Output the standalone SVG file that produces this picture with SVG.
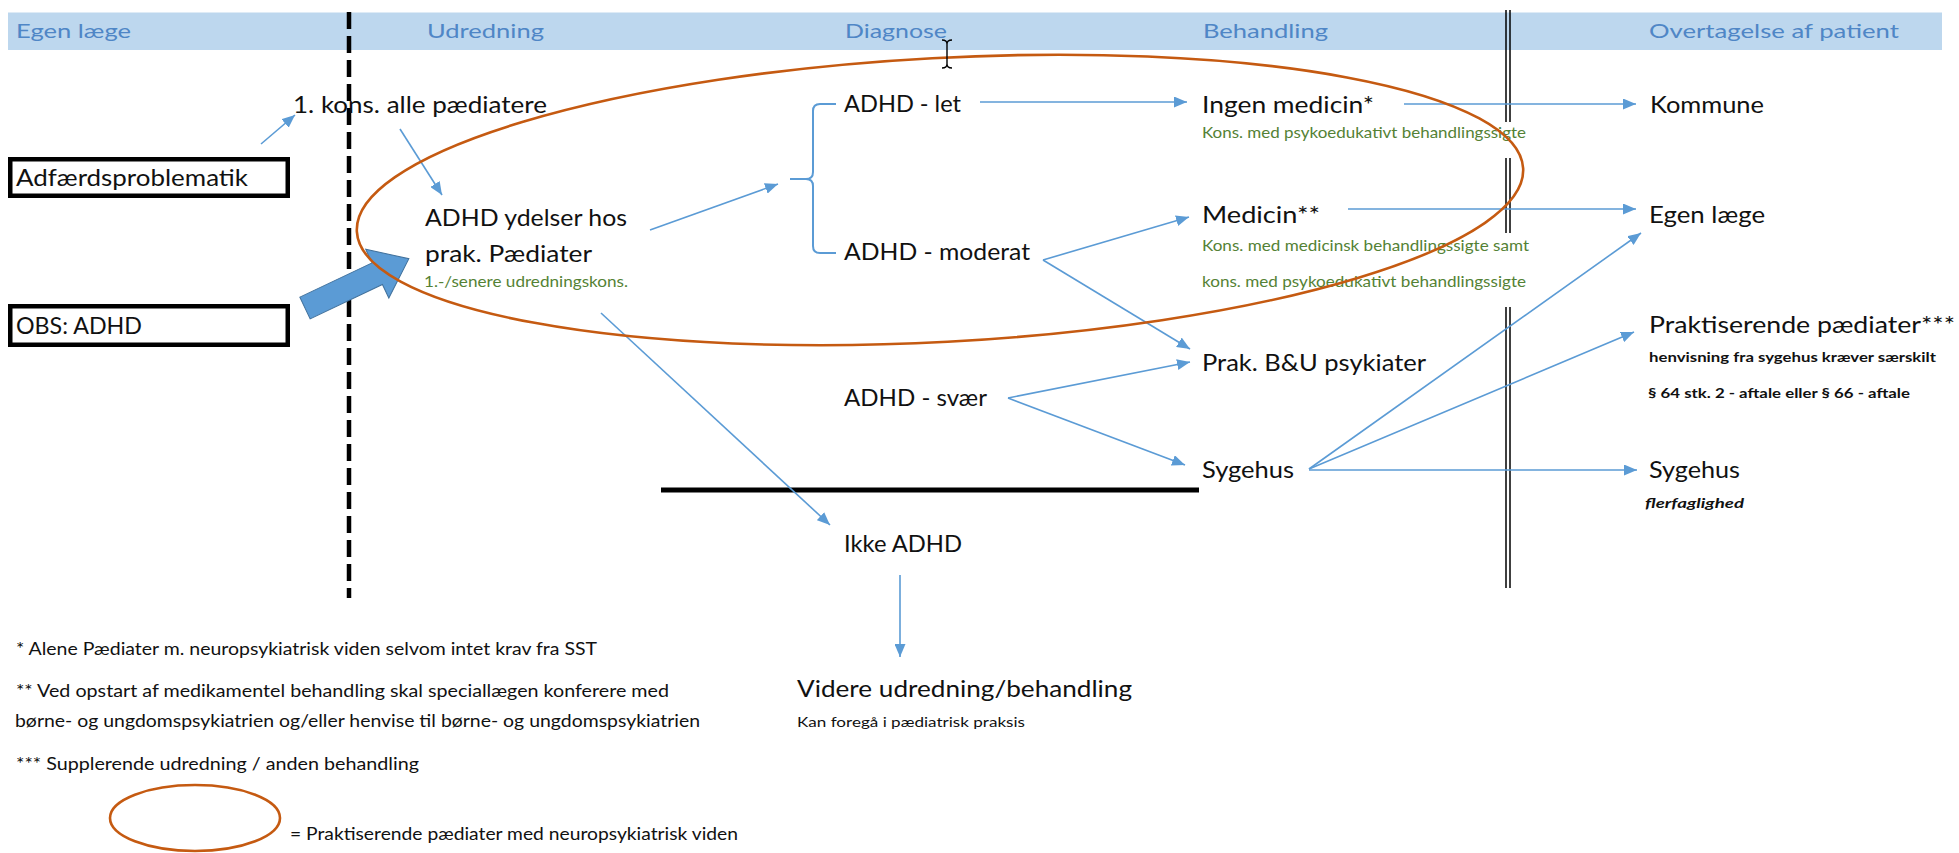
<svg xmlns="http://www.w3.org/2000/svg" width="1959" height="853" viewBox="0 0 1959 853">
<defs>
<style>
text{font-family:Lato,"Liberation Sans",sans-serif;}
.hd{font-size:20px;fill:#4F86C6;}
.n{font-size:23px;fill:#111;}
.g{font-size:15px;fill:#548235;}
.fn{font-size:16.5px;fill:#111;}
.sb{font-size:14px;font-weight:bold;fill:#111;}
.sm{font-size:14px;fill:#111;}
.c{stroke:#5B9BD5;stroke-width:1.6;fill:none;marker-end:url(#ah);}
.box{fill:#fff;stroke:#000;stroke-width:4.5;}
.ov{fill:none;stroke:#C55A11;stroke-width:2.6;}
</style>
<marker id="ah" markerUnits="userSpaceOnUse" markerWidth="13" markerHeight="11" refX="13" refY="5.5" orient="auto">
<path d="M0,0 L13,5.5 L0,11 z" fill="#5B9BD5"/>
</marker>
</defs>
<rect width="1959" height="853" fill="#fff"/>

<g id="header">
<rect x="8" y="12.5" width="1934" height="37.5" fill="#BDD7EE"/>
<text class="hd" x="16" y="38" textLength="115" lengthAdjust="spacingAndGlyphs">Egen læge</text>
<text class="hd" x="427" y="38" textLength="117" lengthAdjust="spacingAndGlyphs">Udredning</text>
<text class="hd" x="845" y="38" textLength="102" lengthAdjust="spacingAndGlyphs">Diagnose</text>
<text class="hd" x="1203" y="38" textLength="125" lengthAdjust="spacingAndGlyphs">Behandling</text>
<text class="hd" x="1649" y="38" textLength="250" lengthAdjust="spacingAndGlyphs">Overtagelse af patient</text>
</g>

<g id="dividers">
<line x1="349" y1="12" x2="349" y2="598" stroke="#000" stroke-width="4.5" stroke-dasharray="17 7"/>
<g stroke="#000" stroke-width="1.5">
<line x1="1506" y1="10" x2="1506" y2="122"/><line x1="1510" y1="10" x2="1510" y2="122"/>
<line x1="1506" y1="158" x2="1506" y2="233"/><line x1="1510" y1="158" x2="1510" y2="233"/>
<line x1="1506" y1="307" x2="1506" y2="588"/><line x1="1510" y1="307" x2="1510" y2="588"/>
</g>
<line x1="661" y1="490" x2="1199" y2="490" stroke="#000" stroke-width="5"/>
</g>

<g id="adfaerd">
<rect class="box" x="10.25" y="159.25" width="277.5" height="36.5"/>
<text class="n" x="16" y="186" textLength="232" lengthAdjust="spacingAndGlyphs">Adfærdsproblematik</text>
</g>
<g id="obs">
<rect class="box" x="10.25" y="306.25" width="277.5" height="38.5"/>
<text class="n" x="16" y="334" textLength="126" lengthAdjust="spacingAndGlyphs">OBS: ADHD</text>
</g>
<g id="block-arrow">
<path d="M0,-12 L80,-12 L80,-27 L115,0 L80,27 L80,12 L0,12 z" transform="translate(305,308) rotate(-25.4)" fill="#5B9BD5" stroke="#41719C" stroke-width="1"/>
</g>

<g id="kons1"><text class="n" x="293" y="113" textLength="254" lengthAdjust="spacingAndGlyphs">1. kons. alle pædiatere</text></g>
<g id="ydelser">
<text class="n" x="425" y="226" textLength="202" lengthAdjust="spacingAndGlyphs">ADHD ydelser hos</text>
<text class="n" x="425" y="262" textLength="167" lengthAdjust="spacingAndGlyphs">prak. Pædiater</text>
<text class="g" x="424" y="287" textLength="204" lengthAdjust="spacingAndGlyphs">1.-/senere udredningskons.</text>
</g>
<g id="adhd-let"><text class="n" x="844" y="112" textLength="117" lengthAdjust="spacingAndGlyphs">ADHD - let</text></g>
<g id="adhd-moderat"><text class="n" x="844" y="260" textLength="186" lengthAdjust="spacingAndGlyphs">ADHD - moderat</text></g>
<g id="adhd-svaer"><text class="n" x="844" y="406" textLength="143" lengthAdjust="spacingAndGlyphs">ADHD - svær</text></g>
<g id="ikke-adhd"><text class="n" x="844" y="552" textLength="118" lengthAdjust="spacingAndGlyphs">Ikke ADHD</text></g>
<g id="videre">
<text class="n" x="797" y="697" textLength="335" lengthAdjust="spacingAndGlyphs">Videre udredning/behandling</text>
<text class="sm" x="797" y="727" textLength="228" lengthAdjust="spacingAndGlyphs">Kan foregå i pædiatrisk praksis</text>
</g>
<g id="ingen-medicin">
<text class="n" x="1202" y="113" textLength="172" lengthAdjust="spacingAndGlyphs">Ingen medicin*</text>
<text class="g" x="1202" y="138" textLength="324" lengthAdjust="spacingAndGlyphs">Kons. med psykoedukativt behandlingssigte</text>
</g>
<g id="medicin">
<text class="n" x="1202" y="223" textLength="118" lengthAdjust="spacingAndGlyphs">Medicin**</text>
<text class="g" x="1202" y="251" textLength="327" lengthAdjust="spacingAndGlyphs">Kons. med medicinsk behandlingssigte samt</text>
<text class="g" x="1202" y="287" textLength="324" lengthAdjust="spacingAndGlyphs">kons. med psykoedukativt behandlingssigte</text>
</g>
<g id="prak-bu"><text class="n" x="1202" y="371" textLength="224" lengthAdjust="spacingAndGlyphs">Prak. B&amp;U psykiater</text></g>
<g id="sygehus-beh"><text class="n" x="1202" y="478" textLength="92" lengthAdjust="spacingAndGlyphs">Sygehus</text></g>
<g id="kommune"><text class="n" x="1650" y="113" textLength="114" lengthAdjust="spacingAndGlyphs">Kommune</text></g>
<g id="egen-laege"><text class="n" x="1649" y="223" textLength="116" lengthAdjust="spacingAndGlyphs">Egen læge</text></g>
<g id="praktiserende">
<text class="n" x="1649" y="333" textLength="306" lengthAdjust="spacingAndGlyphs">Praktiserende pædiater***</text>
<text class="sb" x="1649" y="362" textLength="287" lengthAdjust="spacingAndGlyphs">henvisning fra sygehus kræver særskilt</text>
<text class="sb" x="1648" y="398" textLength="262" lengthAdjust="spacingAndGlyphs">§ 64 stk. 2 - aftale eller § 66 - aftale</text>
</g>
<g id="sygehus-ov">
<text class="n" x="1649" y="478" textLength="91" lengthAdjust="spacingAndGlyphs">Sygehus</text>
<text class="sb" x="1645" y="508" font-style="italic" textLength="99" lengthAdjust="spacingAndGlyphs">flerfaglighed</text>
</g>

<g id="connectors">
<path d="M836,104 L820,104 Q813,104 813,111 L813,172 Q813,179 806,179 L790,179 M806,179 Q813,179 813,186 L813,246 Q813,253 820,253 L836,253" fill="none" stroke="#5B9BD5" stroke-width="2"/>
<line class="c" x1="261" y1="144" x2="295" y2="115"/>
<line class="c" x1="400" y1="129" x2="442" y2="195"/>
<line class="c" x1="650" y1="230" x2="778" y2="184"/>
<line class="c" x1="601" y1="313" x2="830" y2="525"/>
<line class="c" x1="980" y1="102" x2="1187" y2="102"/>
<line class="c" x1="1043" y1="260" x2="1189" y2="217"/>
<line class="c" x1="1043" y1="260" x2="1190" y2="349"/>
<line class="c" x1="1008" y1="398" x2="1190" y2="362"/>
<line class="c" x1="1008" y1="398" x2="1185" y2="465"/>
<line class="c" x1="1404" y1="104" x2="1636" y2="104"/>
<line class="c" x1="1348" y1="209" x2="1636" y2="209"/>
<line class="c" x1="1309" y1="469" x2="1641" y2="233"/>
<line class="c" x1="1309" y1="469" x2="1634" y2="332"/>
<line class="c" x1="1309" y1="470" x2="1637" y2="470"/>
<line class="c" x1="900" y1="575" x2="900" y2="657"/>
</g>

<g id="neuro-ellipse">
<ellipse class="ov" cx="940" cy="200" rx="584" ry="142" transform="rotate(-3.1 940 200)"/>
</g>

<g id="cursor" fill="none" stroke="#000" stroke-width="1.4">
<path d="M942,40 Q947,40 947,44 Q947,40 952,40 M947,44 L947,64 M942,68 Q947,68 947,64 Q947,68 952,68"/>
</g>

<g id="footnotes">
<text class="fn" x="16" y="655" textLength="581" lengthAdjust="spacingAndGlyphs">* Alene Pædiater m. neuropsykiatrisk viden selvom intet krav fra SST</text>
<text class="fn" x="16" y="697" textLength="653" lengthAdjust="spacingAndGlyphs">** Ved opstart af medikamentel behandling skal speciallægen konferere med</text>
<text class="fn" x="15" y="727" textLength="685" lengthAdjust="spacingAndGlyphs">børne- og ungdomspsykiatrien og/eller henvise til børne- og ungdomspsykiatrien</text>
<text class="fn" x="16" y="770" textLength="403" lengthAdjust="spacingAndGlyphs">*** Supplerende udredning / anden behandling</text>
</g>
<g id="legend">
<ellipse class="ov" cx="195" cy="818" rx="85" ry="33"/>
<text class="fn" x="290" y="840" textLength="448" lengthAdjust="spacingAndGlyphs">= Praktiserende pædiater med neuropsykiatrisk viden</text>
</g>
</svg>
